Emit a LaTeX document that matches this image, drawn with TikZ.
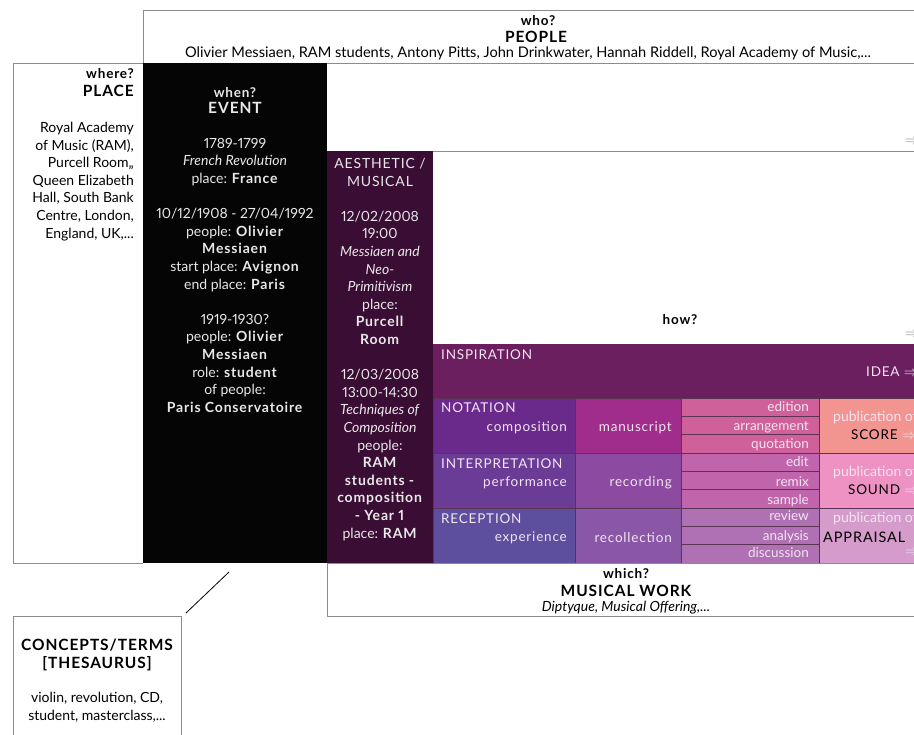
\documentclass[tikz,border=0pt]{standalone}
\usepackage{fontspec}
\setmainfont{Lato}[Numbers=Proportional,BoldFeatures={LetterSpace=6}]
\newfontfamily\capsfont{Lato}[Numbers=Proportional,LetterSpace=6]
\usetikzlibrary{calc,positioning}
\definecolor{linegray}{HTML}{8C8C8C}
\definecolor{cellgray}{HTML}{5A3355}
\definecolor{eventbg}{HTML}{050505}
\definecolor{aesthbg}{HTML}{3A0D34}
\definecolor{evtxt}{HTML}{E8E8E8}
\definecolor{celltext}{HTML}{F2E4F0}
\definecolor{inspbg}{HTML}{6B1F5E}
\definecolor{notA}{HTML}{6A2A8C}
\definecolor{notB}{HTML}{A02C8C}
\definecolor{notC}{HTML}{D0609A}
\definecolor{notD}{HTML}{F29590}
\definecolor{intA}{HTML}{6A3C96}
\definecolor{intB}{HTML}{8C4BA0}
\definecolor{intC}{HTML}{C065AC}
\definecolor{intD}{HTML}{EE92C4}
\definecolor{recA}{HTML}{5E4E9E}
\definecolor{recB}{HTML}{8A56A6}
\definecolor{recC}{HTML}{B070B4}
\definecolor{recD}{HTML}{D49BCB}

\begin{document}
\begin{tikzpicture}[x=1pt,y=-1pt,
	body/.style={inner sep=0pt,align=center,font=\fontsize{14}{17.6}\selectfont},
	qhead/.style={inner sep=0pt,font=\bfseries\fontsize{13.5}{17.6}\selectfont},
	bhead/.style={inner sep=0pt,font=\bfseries\fontsize{15.5}{17.6}\selectfont},
	celltxt/.style={inner sep=0pt,text=celltext,font=\capsfont\fontsize{13.5}{17}\selectfont},
	subtxt/.style={inner sep=0pt,text=celltext,anchor=base east,font=\fontsize{13.5}{17}\selectfont},
	arrowtxt/.style={inner sep=0pt,font=\fontsize{15}{17}\selectfont},
	rule/.style={draw=linegray,line width=0.9pt},
	gridline/.style={draw=cellgray,line width=0.6pt}]
	\clip (0,0) rectangle (914,735);
	\fill[white] (0,0) rectangle (914,735);
	%WHO
	\draw[rule] (143,63) -- (143,10) -- (930,10);
	\draw[rule] (13,63) -- (930,63);
	\draw[rule] (327,151) -- (930,151);
	\node[qhead,anchor=base] (who) at (538,26) {who?};
	\node[bhead,anchor=base] (people) at (536,43) {PEOPLE};
	\node[body,anchor=base,font=\fontsize{14.6}{17.6}\selectfont] (peoplelist) at (528,58) {Olivier Messiaen, RAM students, Antony Pitts, John Drinkwater, Hannah Riddell, Royal Academy of Music,...};
	\node[arrowtxt,text=linegray] (arrwho) at (912,142) {$\Rightarrow$};
	%WHERE
	\draw[rule] (143,63) -- (13,63) -- (13,563) -- (143,563);
	\node[qhead,anchor=base east] (where) at (134,79) {where?};
	\node[bhead,anchor=base east] (place) at (134,97) {PLACE};
	\node[body,align=right,anchor=north east] (placelist) at (134,122) {Royal Academy\\of Music (RAM),\\Purcell Room,,\\Queen Elizabeth\\Hall, South Bank\\Centre, London,\\England, UK,...};
	%EVENT
	\fill[eventbg] (143,63) rectangle (327,563);
	\node[qhead,text=evtxt,anchor=base] (when) at (235,98) {when?};
	\node[bhead,text=evtxt,anchor=base] (event) at (235,114) {EVENT};
	\node[body,text=evtxt,anchor=north] (eventlist) at (235,138) {1789-1799\\\textit{French Revolution}\\place: \textbf{France}\\[17.6pt]10/12/1908 - 27/04/1992\\people: \textbf{Olivier}\\\textbf{Messiaen}\\start place: \textbf{Avignon}\\end place: \textbf{Paris}\\[17.6pt]1919-1930?\\people: \textbf{Olivier}\\\textbf{Messiaen}\\role: \textbf{student}\\of people:\\\textbf{Paris Conservatoire}};
	%AESTHETIC
	\fill[aesthbg] (327,151) rectangle (433,563);
	\node[body,text=evtxt,anchor=north] (aesth) at (380,158) {{\capsfont AESTHETIC /}\\{\capsfont MUSICAL}\\[17.6pt]12/02/2008\\19:00\\\textit{Messiaen and}\\\textit{Neo-}\\\textit{Primitivism}\\place:\\\textbf{Purcell}\\\textbf{Room}\\[17.6pt]12/03/2008\\13:00-14:30\\\textit{Techniques of}\\\textit{Composition}\\people:\\\textbf{RAM}\\\textbf{students -}\\\textbf{composition}\\\textbf{- Year 1}\\place: \textbf{RAM}};
	%HOW
	\draw[rule] (433,344) -- (930,344);
	\node[qhead,anchor=base] (how) at (680,325) {how?};
	\node[arrowtxt,text=linegray] (arrhow) at (912,335) {$\Rightarrow$};
	%INSPIRATION
	\fill[inspbg] (433,344) rectangle (930,398);
	\node[celltxt,anchor=base west] (insp) at (441,360) {INSPIRATION};
	\node[celltxt,anchor=base west] (idea) at (866,377) {IDEA {\fontsize{15}{17}\selectfont$\Rightarrow$}};
	%ROWS
	\foreach \ya/\yb/\ca/\cb/\cc/\cd in {398/453/notA/notB/notC/notD,453/508/intA/intB/intC/intD,508/563/recA/recB/recC/recD}{
		\filldraw[gridline,fill=\ca] (433,\ya) rectangle (575,\yb);
		\filldraw[gridline,fill=\cb] (575,\ya) rectangle (681,\yb);
		\filldraw[gridline,fill=\cc] (681,\ya) rectangle (819,\yb);
		\draw[gridline] (681,{\ya+18.3}) -- (819,{\ya+18.3});
		\draw[gridline] (681,{\ya+36.7}) -- (819,{\ya+36.7});
		\filldraw[gridline,fill=\cd] (819,\ya) rectangle (930,\yb);
	}
	%NOTATION
	\node[celltxt,anchor=base west] (notation) at (441,413) {NOTATION};
	\node[celltxt,anchor=base east] (compo) at (567,432) {composition};
	\node[celltxt,anchor=base east] (manu) at (672,432) {manuscript};
	\node[subtxt] (edition) at (809,412) {edition};
	\node[subtxt] (arrang) at (809,431) {arrangement};
	\node[subtxt] (quota) at (809,449) {quotation};
	\node[body,text=celltext,anchor=base west] (pubscore) at (833,422) {publication of};
	\node[celltxt,text=black,anchor=base west] (score) at (851,440) {SCORE \textcolor{celltext}{\fontsize{15}{17}\selectfont$\Rightarrow$}};
	%INTERPRETATION
	\node[celltxt,anchor=base west] (interp) at (441,468) {INTERPRETATION};
	\node[celltxt,anchor=base east] (perf) at (567,487) {performance};
	\node[celltxt,anchor=base east] (recor) at (672,487) {recording};
	\node[subtxt] (edit) at (809,467) {edit};
	\node[subtxt] (remix) at (809,486) {remix};
	\node[subtxt] (sample) at (809,504) {sample};
	\node[body,text=celltext,anchor=base west] (pubsound) at (833,477) {publication of};
	\node[celltxt,text=black,anchor=base west] (sound) at (848,494) {SOUND \textcolor{celltext}{\fontsize{15}{17}\selectfont$\Rightarrow$}};
	%RECEPTION
	\node[celltxt,anchor=base west] (recep) at (441,523) {RECEPTION};
	\node[celltxt,anchor=base east] (exper) at (567,541) {experience};
	\node[celltxt,anchor=base east] (recoll) at (672,542) {recollection};
	\node[subtxt] (review) at (809,521) {review};
	\node[subtxt] (analysis) at (809,540) {analysis};
	\node[subtxt] (discuss) at (809,558) {discussion};
	\node[body,text=celltext,anchor=base west] (pubappr) at (833,522) {publication of};
	\node[celltxt,text=black,anchor=base west,font=\capsfont\fontsize{14.5}{17}\selectfont] (appr) at (823,542) {APPRAISAL};
	\node[arrowtxt,text=celltext] (arrappr) at (912,553) {$\Rightarrow$};
	%WHICH
	\draw[rule] (930,563) -- (327,563) -- (327,616) -- (930,616);
	\node[qhead,anchor=base] (which) at (626,578) {which?};
	\node[bhead,anchor=base] (work) at (626,596) {MUSICAL WORK};
	\node[body,anchor=base] (worklist) at (626,611) {\textit{Diptyque, Musical Offering,...}};
	%CONCEPTS
	\draw[rule] (13,740) -- (13,616) -- (181,616) -- (181,740);
	\node[bhead,anchor=base] (concepts) at (97,650) {CONCEPTS/TERMS};
	\node[bhead,anchor=base] (thes) at (97,668) {[THESAURUS]};
	\node[body,anchor=north] (termlist) at (97,692) {violin, revolution, CD,\\student, masterclass,...};
	\coordinate (lnA) at (229,572);
	\coordinate (lnB) at (186,613);
	\draw[line width=0.8pt] (lnA) -- (lnB);
\end{tikzpicture}
\end{document}
